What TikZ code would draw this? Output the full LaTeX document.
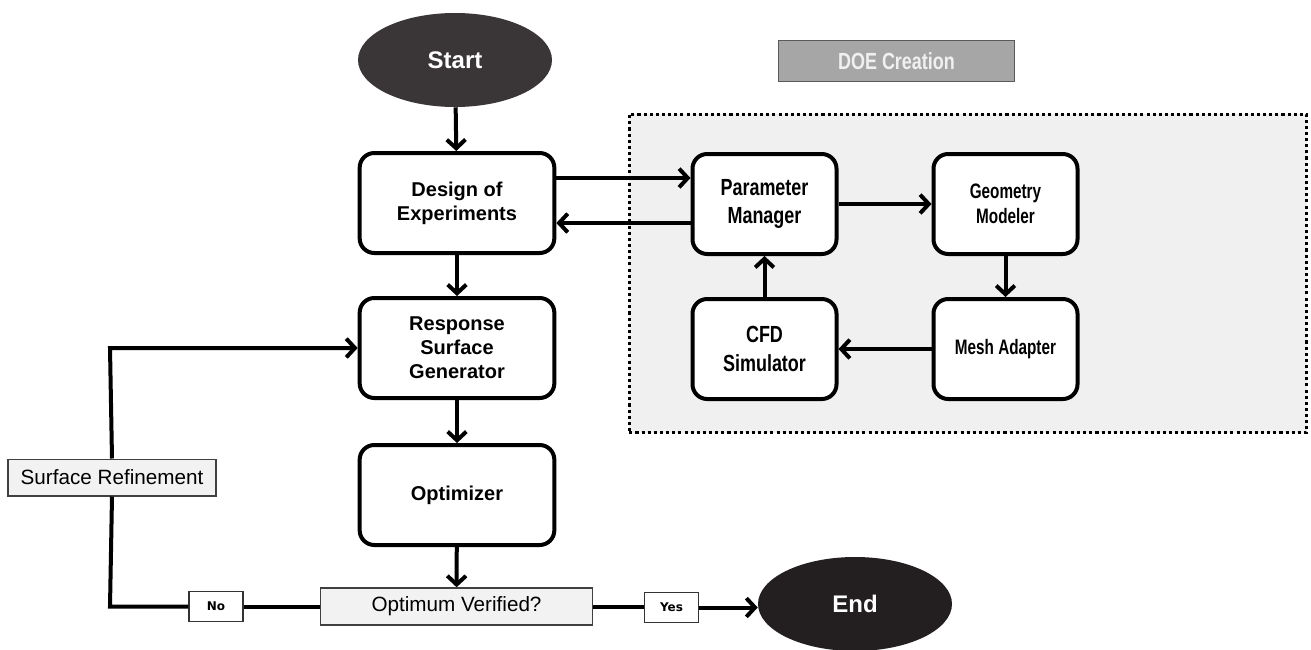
\documentclass[tikz,border=0pt]{standalone}
\usepackage{fontspec}
\setmainfont{Liberation Sans}
\newfontfamily\narrowfont[FakeStretch=0.77]{Liberation Sans}
\newfontfamily\narrowerfont[FakeStretch=0.73]{Liberation Sans}
\newfontfamily\dvfont{DejaVu Sans}
\usetikzlibrary{shapes.geometric,arrows.meta}
\definecolor{startfill}{HTML}{3A3536}
\definecolor{endfill}{HTML}{231F20}
\definecolor{groupfill}{HTML}{F0F0F0}
\definecolor{doefill}{HTML}{A6A6A6}
\definecolor{lightbox}{HTML}{F2F2F2}
\tikzset{
  flowbox/.style={draw=black, line width=3pt, rounded corners=11pt, fill=white, align=center,
    minimum width=146pt, minimum height=75pt, inner sep=0pt},
  rbox/.style={draw=black, line width=3pt, rounded corners=11pt, fill=white, align=center,
    minimum width=108pt, minimum height=75pt, inner sep=0pt},
  term/.style={ellipse, minimum width=145.5pt, minimum height=70.5pt, inner sep=0pt,
    text=white, font=\bfseries\fontsize{18}{21}\selectfont},
  conn/.style={line width=3pt, -{Straight Barb[length=6.5pt,width=14pt]}},
  plain/.style={line width=3pt},
  tag/.style={draw=black!80, line width=0.8pt, fill=white, inner sep=0pt,
    font=\dvfont\bfseries\fontsize{9}{11}\selectfont},
  labbox/.style={draw=black!75, line width=1pt, fill=lightbox, inner sep=0pt,
    font=\fontsize{15.5}{18}\selectfont}
}
\begin{document}
\begin{tikzpicture}[x=0.75pt,y=-0.75pt]
\useasboundingbox (0,0) rectangle (1311,650);
% group background
\node[draw=black, line width=2.3pt, dash pattern=on 2.3pt off 2.3pt, fill=groupfill,
  minimum width=508pt, minimum height=239pt, inner sep=0pt] (group) at (968,273.5) {};
\node[draw=black!65, line width=1.2pt, fill=doefill, minimum width=177pt, minimum height=31pt,
  inner sep=0pt, text=white!94!black, font=\narrowfont\bfseries\fontsize{17.5}{20}\selectfont]
  (doe) at (896.5,61) {DOE Creation};
% terminals
\node[term, fill=startfill] (start) at (455,60) {Start};
\node[term, fill=endfill] (end) at (855,604) {End};
% left column
\node[flowbox, font=\bfseries\fontsize{15}{18}\selectfont] (design) at (457,203) {Design of\\Experiments};
\node[flowbox, font=\bfseries\fontsize{15}{18}\selectfont] (rsg) at (457,348) {Response\\Surface\\Generator};
\node[flowbox, font=\bfseries\fontsize{15}{18}\selectfont] (opt) at (457,495) {Optimizer};
% right group
\node[rbox, font=\narrowfont\bfseries\fontsize{17.5}{21}\selectfont] (pm) at (764.5,204) {Parameter\\Manager};
\node[rbox, font=\narrowerfont\bfseries\fontsize{15.7}{18.5}\selectfont] (gm) at (1005.5,204) {Geometry\\Modeler};
\node[rbox, font=\narrowfont\bfseries\fontsize{17.5}{22}\selectfont] (cfd) at (764.5,349) {CFD\\Simulator};
\node[rbox, font=\narrowerfont\bfseries\fontsize{15.7}{18.5}\selectfont] (ma) at (1005.5,349) {Mesh Adapter};
% decision and labels
\node[labbox, line width=1.4pt, minimum width=204pt, minimum height=27.5pt] (ov) at (456.5,606.5) {Optimum Verified?};
\node[labbox, minimum width=156pt, minimum height=27.5pt] (sr) at (112,477.5) {Surface Refinement};
\node[tag, minimum width=40.5pt, minimum height=23pt] (no) at (216,606.5) {No};
\node[tag, minimum width=41pt, minimum height=23pt] (yes) at (671.5,607.5) {Yes};
\coordinate (c1) at (110,606.5);
\coordinate (c2) at (110,348);
% connectors
\draw[conn] (start) -- (design);
\draw[conn] (design.east |- 0,178) -- (pm.west |- 0,178);
\draw[conn] (pm.west |- 0,223) -- (design.east |- 0,223);
\draw[conn] (design) -- (rsg);
\draw[conn] (rsg) -- (opt);
\draw[conn] (opt) -- (ov);
\draw[conn] (pm) -- (gm);
\draw[conn] (gm) -- (ma);
\draw[conn] (ma) -- (cfd);
\draw[conn] (cfd) -- (pm);
\draw[plain] (ov.east) -- (ov.east -| yes.west);
\draw[conn] (yes.east) -- (end.west |- yes.east);
\draw[plain] (ov.west) -- (no.east);
\draw[plain] (no.west) -- (c1) -- (sr.south);
\draw[conn] (sr.north) -- (c2) -- (rsg.west |- c2);
\end{tikzpicture}
\end{document}
